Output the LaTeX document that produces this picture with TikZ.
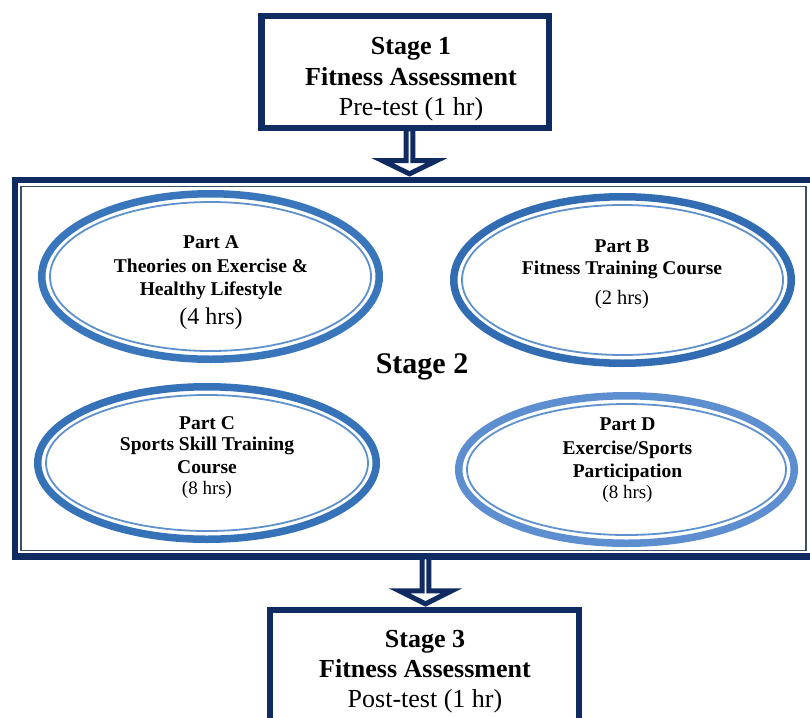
\documentclass[tikz,border=0pt]{standalone}
\usepackage{fontspec}
\setmainfont{Liberation Serif}
\usetikzlibrary{shapes.geometric,shapes.arrows}
\definecolor{navy}{RGB}{16,42,98}
\definecolor{innerline}{RGB}{60,78,100}
\definecolor{ringA}{RGB}{58,118,188}
\definecolor{ringB}{RGB}{50,108,178}
\definecolor{ringC}{RGB}{54,114,184}
\definecolor{ringD}{RGB}{92,142,208}
\definecolor{thinring}{RGB}{95,145,205}
\begin{document}
\begin{tikzpicture}[x=1pt,y=-1pt,
  stagebox/.style={draw=navy, line width=6.5pt, inner sep=0pt, fill=white},
  ring/.style={ellipse, line width=7.5pt, inner sep=0pt},
  thinline/.style={draw=thinring, line width=1.8pt},
  hollow/.style={single arrow, draw=navy, fill=white, line width=5pt, rotate=-90,
    inner sep=0pt, single arrow head indent=0pt},
  stg/.style={anchor=base, inner sep=0pt, font=\fontsize{26}{30}\selectfont\bfseries},
  stgr/.style={anchor=base, inner sep=0pt, font=\fontsize{26}{30}\selectfont},
  prt/.style={anchor=base, inner sep=0pt, font=\fontsize{19.5}{22}\selectfont\bfseries},
  hrs/.style={anchor=base, inner sep=0pt}
]
\useasboundingbox (0,0) rectangle (810,717);
\clip (0,0) rectangle (810,717);
\fill[white] (0,0) rectangle (810,717);

% Stage 2 frame
\node[stagebox, minimum width=798pt, minimum height=376.5pt] (s2) at (414,368.25) {};
\draw[innerline, line width=1.5pt] (21,186.5) rectangle (806,550.5);

% Stage 1 box
\node[stagebox, minimum width=287.5pt, minimum height=111.5pt] (s1) at (405,72) {};
\node[stg] (s1a) at (411,55) {Stage 1};
\node[stg] (s1b) at (411,85) {Fitness Assessment};
\node[stgr] (s1c) at (411,115) {Pre-test (1 hr)};

% Stage 3 box
\node[stagebox, minimum width=309pt, minimum height=120pt] (s3) at (424.5,670) {};
\node[stg] (s3a) at (425,647) {Stage 3};
\node[stg] (s3b) at (425,677) {Fitness Assessment};
\node[stgr] (s3c) at (425,707) {Post-test (1 hr)};

% hollow arrows
\node[hollow, minimum height=45pt, minimum width=54pt, single arrow head extend=17.5pt,
  single arrow tip angle=128] (ar1) at (409.5,150.5) {};
\node[hollow, minimum height=47pt, minimum width=52pt, single arrow head extend=16.5pt,
  single arrow tip angle=127] (ar2) at (425.5,579.5) {};

% Ellipses
\node[ring, draw=ringA, minimum width=337.5pt, minimum height=165.5pt] (eA) at (210.5,276.5) {};
\draw[thinline] (eA.center) ellipse [x radius=160.5pt, y radius=74.5pt];
\node[ring, draw=ringB, minimum width=337.5pt, minimum height=166.5pt] (eB) at (622.5,280) {};
\draw[thinline] (eB.center) ellipse [x radius=160.5pt, y radius=75pt];
\node[ring, draw=ringC, minimum width=338.5pt, minimum height=152.5pt] (eC) at (207,463) {};
\draw[thinline] (eC.center) ellipse [x radius=161pt, y radius=68pt];
\node[ring, draw=ringD, minimum width=335.5pt, minimum height=147.5pt] (eD) at (626.5,469.5) {};
\draw[thinline] (eD.center) ellipse [x radius=159.5pt, y radius=65.5pt];

% Stage 2 label
\node[anchor=base, inner sep=0pt, font=\fontsize{30}{34}\selectfont\bfseries] (s2l) at (422,373) {Stage 2};

% Part A
\node[prt] (a1) at (211,248) {Part A};
\node[prt] (a2) at (211,272) {Theories on Exercise \&};
\node[prt] (a3) at (211,295) {Healthy Lifestyle};
\node[hrs, font=\fontsize{24}{28}\selectfont] (a4) at (211,324) {(4 hrs)};

% Part B
\node[prt] (b1) at (622,252) {Part B};
\node[prt] (b2) at (622,274) {Fitness Training Course};
\node[hrs, font=\fontsize{20.5}{24}\selectfont] (b3) at (622,304) {(2 hrs)};

% Part C
\node[prt] (c1) at (207,429) {Part C};
\node[prt] (c2) at (207,450) {Sports Skill Training};
\node[prt] (c3) at (207,473) {Course};
\node[hrs, font=\fontsize{19}{22}\selectfont] (c4) at (207,494) {(8 hrs)};

% Part D
\node[prt] (d1) at (627.5,430) {Part D};
\node[prt] (d2) at (627.5,454) {Exercise/Sports};
\node[prt] (d3) at (627.5,477) {Participation};
\node[hrs, font=\fontsize{19}{22}\selectfont] (d4) at (627.5,498) {(8 hrs)};
\end{tikzpicture}
\end{document}
